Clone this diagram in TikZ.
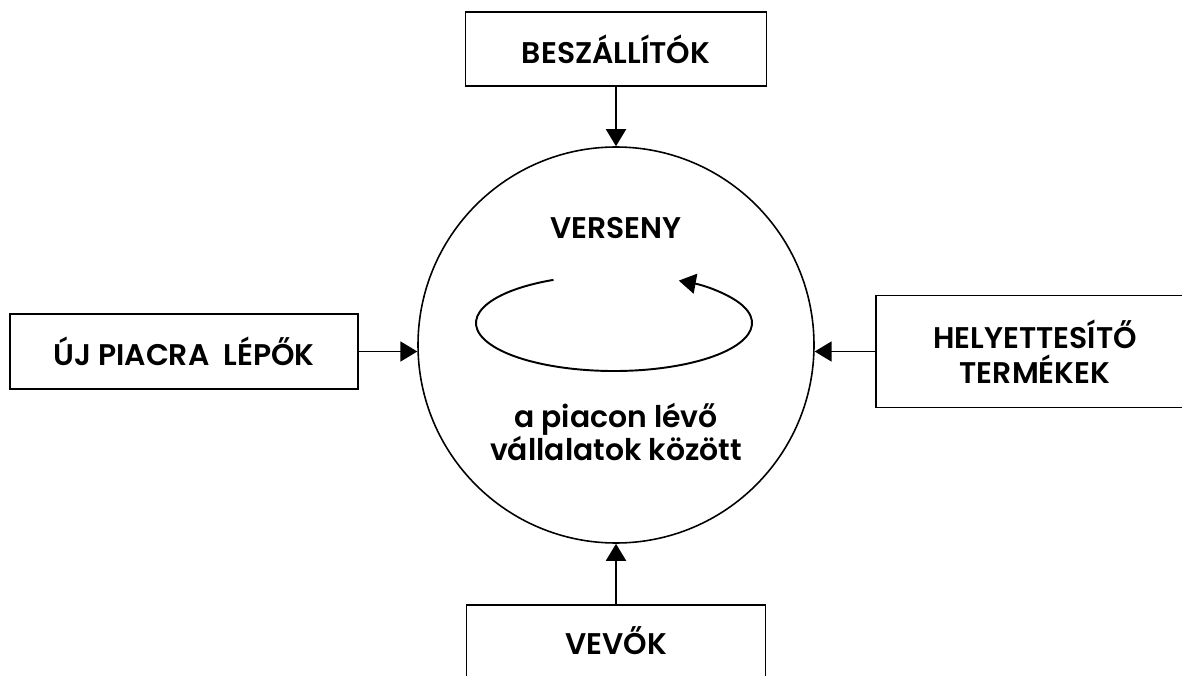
\documentclass[tikz,border=0pt]{standalone}
\usepackage{fontspec}
\setmainfont{Poppins}[BoldFont={Poppins SemiBold}]
\usepackage{tikz}
\usetikzlibrary{arrows.meta}

\tikzset{
    force/.style={draw, line width=1.1pt, inner sep=0pt, align=center,
        font=\fontsize{17}{20}\selectfont\bfseries},
    push/.style={line width=1.1pt, -{Triangle[length=0.34cm, width=0.4cm]}}
}

\begin{document}
\begin{tikzpicture}
    		\useasboundingbox (0,0) rectangle (23.64,13.5);
    		
    		% the market in the middle
    		\node[circle, draw, line width=0.9pt, minimum size=7.92cm, inner sep=0pt] (market) at (12.32,6.6) {};
    		\node[font=\fontsize{17}{20}\selectfont\bfseries] (verseny) at (12.32,8.94) {VERSENY};
    		\node[align=center, font=\fontsize{17}{19}\selectfont\bfseries] (cegek) at (12.32,4.86)
    			{a piacon lévő\\vállalatok között};
    		
    		% rivalry loop
    		\coordinate (loop) at (12.28,7.04);
    		\draw[push] (loop) ++(116:2.76cm and 0.96cm)
    			arc[start angle=116, end angle=422, x radius=2.76cm, y radius=0.96cm];
    		
    		% the four outside forces
    		\node[force, minimum width=6.02cm, minimum height=1.48cm] (beszall) at (12.32,12.52) {BESZÁLLÍTÓK};
    		\node[force, minimum width=6.96cm, minimum height=1.5cm] (belepo) at (3.68,6.47) {ÚJ PIACRA\ \ LÉPŐK};
    		\node[force, minimum width=6.36cm, minimum height=2.24cm] (helyett) at (20.7,6.47) {HELYETTESÍTŐ\\TERMÉKEK};
    		\node[force, minimum width=5.98cm, minimum height=1.44cm] (vevok) at (12.32,0.68) {VEVŐK};
    		
    		\draw[push] (beszall.south) -- (market.north);
    		\draw[push] (vevok.north) -- (market.south);
    		\draw[push] (belepo.east) -- (belepo.east -| market.182);
    		\draw[push] (helyett.west) -- (helyett.west -| market.358);
    	\end{tikzpicture}
\end{document}
